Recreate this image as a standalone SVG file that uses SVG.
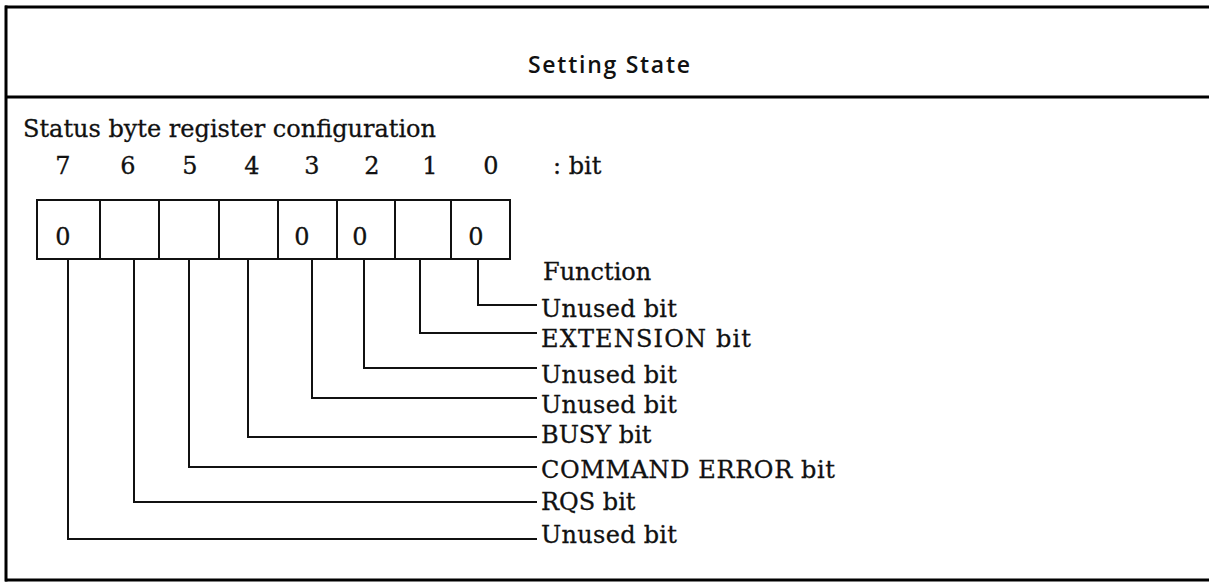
<svg xmlns="http://www.w3.org/2000/svg" width="1209" height="582" viewBox="0 0 1209 582">
<style>
.frame{stroke:#000;stroke-width:3;fill:none}
.cell{stroke:#111;stroke-width:2;fill:#fff}
.lead{stroke:#111;stroke-width:2;fill:none}
.t{font-family:"DejaVu Serif","Liberation Serif",serif;font-size:24px;fill:#111;stroke:#111;stroke-width:0.3}
.title{font-family:"Open Sans","DejaVu Sans",sans-serif;font-size:23px;font-weight:600;fill:#111}
</style>
<rect width="1209" height="582" fill="#fff"/>
<g id="frame">
<line class="frame" x1="5" y1="7" x2="1209" y2="7"/>
<line class="frame" x1="5" y1="97" x2="1209" y2="97"/>
<line class="frame" x1="5" y1="580" x2="1209" y2="580"/>
<line class="frame" x1="6" y1="5.5" x2="6" y2="581.5"/>
</g>
<g id="title"><text class="title" x="609" y="73" text-anchor="middle" textLength="162">Setting State</text></g>
<g id="caption"><text class="t" x="23" y="137">Status byte register configuration</text></g>
<g id="bit-numbers">
<text class="t" x="63" y="174" text-anchor="middle">7</text>
<text class="t" x="128" y="174" text-anchor="middle">6</text>
<text class="t" x="190" y="174" text-anchor="middle">5</text>
<text class="t" x="252" y="174" text-anchor="middle">4</text>
<text class="t" x="312" y="174" text-anchor="middle">3</text>
<text class="t" x="372" y="174" text-anchor="middle">2</text>
<text class="t" x="430" y="174" text-anchor="middle">1</text>
<text class="t" x="491" y="174" text-anchor="middle">0</text>
<text class="t" x="553" y="174">: bit</text>
</g>
<g id="register">
<rect class="cell" x="37" y="200" width="63" height="59"/>
<rect class="cell" x="100" y="200" width="59" height="59"/>
<rect class="cell" x="159" y="200" width="60" height="59"/>
<rect class="cell" x="219" y="200" width="59" height="59"/>
<rect class="cell" x="278" y="200" width="59" height="59"/>
<rect class="cell" x="337" y="200" width="58" height="59"/>
<rect class="cell" x="395" y="200" width="56" height="59"/>
<rect class="cell" x="451" y="200" width="59" height="59"/>
<text class="t" x="63" y="245" text-anchor="middle">0</text>
<text class="t" x="302" y="245" text-anchor="middle">0</text>
<text class="t" x="360" y="245" text-anchor="middle">0</text>
<text class="t" x="476" y="245" text-anchor="middle">0</text>
</g>
<g id="connectors">
<polyline class="lead" points="478,259 478,305 537,305"/>
<polyline class="lead" points="420,259 420,333 537,333"/>
<polyline class="lead" points="364,259 364,368 537,368"/>
<polyline class="lead" points="312,259 312,398 537,398"/>
<polyline class="lead" points="248,259 248,437 537,437"/>
<polyline class="lead" points="189,259 189,467 537,467"/>
<polyline class="lead" points="134,259 134,502 537,502"/>
<polyline class="lead" points="68,259 68,539 537,539"/>
</g>
<g id="labels">
<text class="t" x="543" y="280">Function</text>
<text class="t" x="541" y="317" textLength="136">Unused bit</text>
<text class="t" x="541" y="347" textLength="210">EXTENSION bit</text>
<text class="t" x="541" y="383" textLength="136">Unused bit</text>
<text class="t" x="541" y="413" textLength="136">Unused bit</text>
<text class="t" x="541" y="443">BUSY bit</text>
<text class="t" x="541" y="478" textLength="294">COMMAND ERROR bit</text>
<text class="t" x="541" y="510">RQS bit</text>
<text class="t" x="541" y="543" textLength="136">Unused bit</text>
</g>
</svg>
